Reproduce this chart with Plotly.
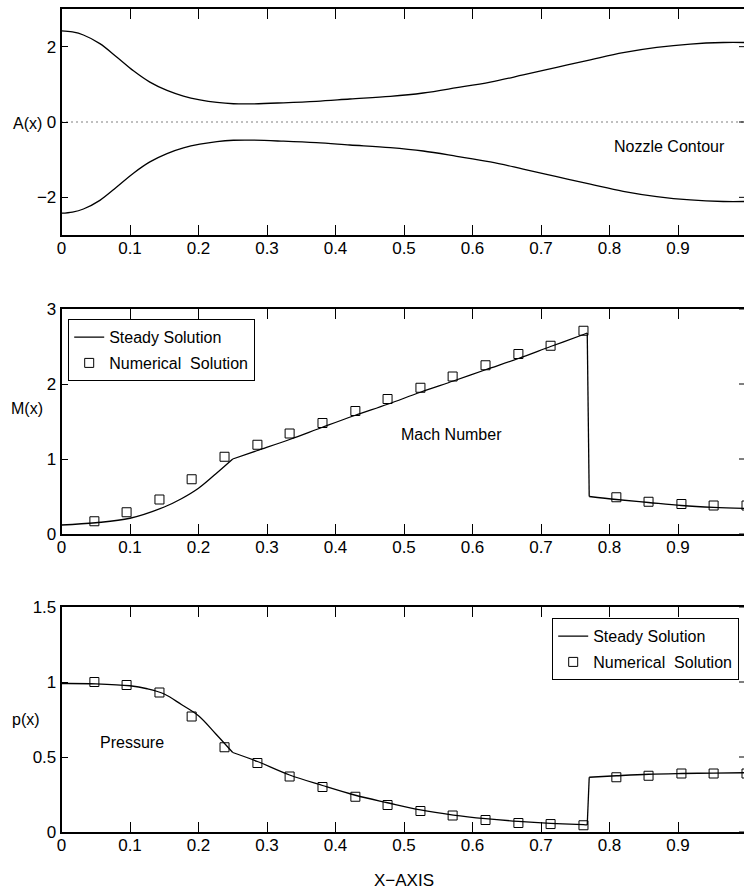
import plotly.graph_objects as go

# ---- nozzle contour (upper wall; lower wall is its mirror) ----
nozzle_x = [0, 0.016, 0.032, 0.056, 0.081, 0.105, 0.129, 0.154, 0.178, 0.202, 0.227,
            0.251, 0.275, 0.324, 0.372, 0.421, 0.48, 0.528, 0.577, 0.626, 0.674,
            0.723, 0.772, 0.82, 0.869, 0.918, 0.966, 1.0]
nozzle_a = [2.42, 2.39, 2.31, 2.08, 1.72, 1.36, 1.06, 0.84, 0.69, 0.59, 0.52,
            0.485, 0.48, 0.51, 0.55, 0.61, 0.68, 0.77, 0.91, 1.06, 1.25,
            1.45, 1.65, 1.84, 1.98, 2.07, 2.11, 2.11]
axis_x = [0, 1]
axis_zero = [0, 0]

# ---- steady Mach number, split at throat and shock ----
mach_sub_x = [0, 0.05, 0.1, 0.15, 0.175, 0.2, 0.225, 0.25]
mach_sub_y = [0.12, 0.15, 0.21, 0.36, 0.47, 0.61, 0.80, 1.00]
mach_sup_x = [0.25, 0.285, 0.333, 0.38, 0.428, 0.476, 0.524, 0.572, 0.619, 0.667, 0.714, 0.762, 0.7675]
mach_sup_y = [1.00, 1.11, 1.26, 1.42, 1.58, 1.73, 1.89, 2.04, 2.19, 2.34, 2.50, 2.66, 2.68]
mach_shock_x = [0.7675, 0.7704]
mach_shock_y = [2.68, 0.50]
mach_down_x = [0.7704, 0.81, 0.857, 0.905, 0.952, 1.0]
mach_down_y = [0.50, 0.46, 0.42, 0.38, 0.355, 0.34]

# ---- steady pressure, split at throat and shock ----
p_sub_x = [0, 0.05, 0.1, 0.125, 0.15, 0.175, 0.2, 0.225, 0.25]
p_sub_y = [0.99, 0.988, 0.975, 0.955, 0.92, 0.85, 0.775, 0.655, 0.53]
p_sup_x = [0.25, 0.286, 0.333, 0.381, 0.429, 0.476, 0.524, 0.572, 0.619, 0.667, 0.714, 0.762, 0.7675]
p_sup_y = [0.53, 0.47, 0.38, 0.31, 0.245, 0.195, 0.147, 0.113, 0.089, 0.071, 0.058, 0.049, 0.047]
p_shock_x = [0.7675, 0.7704]
p_shock_y = [0.047, 0.365]
p_down_x = [0.7704, 0.81, 0.857, 0.905, 0.952, 1.0]
p_down_y = [0.365, 0.375, 0.385, 0.39, 0.393, 0.395]

# ---- numerical solution samples ----
num_x = [0.048, 0.095, 0.143, 0.190, 0.238, 0.286, 0.333, 0.381, 0.429, 0.476, 0.524,
         0.571, 0.619, 0.667, 0.714, 0.762, 0.810, 0.857, 0.905, 0.952, 1.0]
num_mach = [0.17, 0.29, 0.46, 0.73, 1.03, 1.19, 1.34, 1.48, 1.64, 1.80, 1.95,
            2.10, 2.25, 2.40, 2.51, 2.71, 0.49, 0.43, 0.40, 0.38, 0.38]
num_p = [1.00, 0.98, 0.93, 0.77, 0.565, 0.46, 0.37, 0.30, 0.235, 0.18, 0.14,
         0.11, 0.08, 0.06, 0.053, 0.045, 0.365, 0.375, 0.39, 0.39, 0.39]

x_ticks = [0, 0.1, 0.2, 0.3, 0.4, 0.5, 0.6, 0.7, 0.8, 0.9, 1.0]
a_ticks = [-2, 0, 2]
m_ticks = [0, 1, 2, 3]
p_ticks = [0, 0.5, 1, 1.5]

FONT = "Liberation Sans, Arial, Helvetica, sans-serif"
W, H = 744, 892
LINE = dict(color="black", width=1.3)
MARK = dict(symbol="square-open", size=9, color="black", line=dict(width=1, color="black"))

fig = go.Figure()

# nozzle walls and centre line
fig.add_trace(go.Scatter(x=nozzle_x, y=nozzle_a, mode="lines", line=dict(LINE, shape="spline"),
                         xaxis="x", yaxis="y", showlegend=False))
fig.add_trace(go.Scatter(x=nozzle_x, y=[-a for a in nozzle_a], mode="lines",
                         line=dict(LINE, shape="spline"), xaxis="x", yaxis="y", showlegend=False))
fig.add_trace(go.Scatter(x=axis_x, y=axis_zero, mode="lines",
                         line=dict(color="black", width=1.2, dash="1px,4px"),
                         xaxis="x", yaxis="y", showlegend=False))

# Mach number panel
segs = [(mach_sub_x, mach_sub_y, "spline"), (mach_sup_x, mach_sup_y, "spline"),
        (mach_shock_x, mach_shock_y, "linear"), (mach_down_x, mach_down_y, "spline")]
for i, (sx, sy, shp) in enumerate(segs):
    fig.add_trace(go.Scatter(x=sx, y=sy, mode="lines", line=dict(LINE, shape=shp),
                             name="Steady Solution", legendgroup="m_steady",
                             showlegend=(i == 0), legend="legend",
                             xaxis="x2", yaxis="y2"))
fig.add_trace(go.Scatter(x=num_x, y=num_mach, mode="markers", name="Numerical  Solution",
                         marker=MARK, legendgroup="m_num", legend="legend",
                         xaxis="x2", yaxis="y2"))

# pressure panel
segs = [(p_sub_x, p_sub_y, "spline"), (p_sup_x, p_sup_y, "spline"),
        (p_shock_x, p_shock_y, "linear"), (p_down_x, p_down_y, "spline")]
for i, (sx, sy, shp) in enumerate(segs):
    fig.add_trace(go.Scatter(x=sx, y=sy, mode="lines", line=dict(LINE, shape=shp),
                             name="Steady Solution", legendgroup="p_steady",
                             showlegend=(i == 0), legend="legend2",
                             xaxis="x3", yaxis="y3"))
fig.add_trace(go.Scatter(x=num_x, y=num_p, mode="markers", name="Numerical  Solution",
                         marker=MARK, legendgroup="p_num", legend="legend2",
                         xaxis="x3", yaxis="y3"))

x0_px = 61.5
xr = (W - x0_px) / 685.0  # visible x extent of each panel
x_dom = [x0_px / W, 1.0]


def ydom(top_px, bot_px):
    return [(H - bot_px) / H, (H - top_px) / H]


tickfont = dict(family=FONT, size=17, color="black")
xcommon = dict(range=[0, xr], domain=x_dom, tickvals=x_ticks, ticks="inside", ticklen=10,
               tickwidth=1, tickcolor="black", showline=True, linecolor="black", linewidth=1.6,
               mirror="ticks", showgrid=False, zeroline=False, tickfont=tickfont,
               ticklabelstandoff=-3)
ycommon = dict(ticks="inside", ticklen=7, tickwidth=1, tickcolor="black", showline=True,
               linecolor="black", linewidth=1.6, mirror=False, showgrid=False,
               zeroline=False, tickfont=tickfont)

panels = [(9, 235, [-3, 3], a_ticks), (309, 534, [0, 3], m_ticks), (607, 832, [0, 1.5], p_ticks)]
shapes = []
for i, (top, bot, rng, tv) in enumerate(panels, start=1):
    sfx = "" if i == 1 else str(i)
    fig.layout["xaxis" + sfx] = dict(xcommon, anchor="y" + sfx)
    fig.layout["yaxis" + sfx] = dict(ycommon, anchor="x" + sfx, domain=ydom(top, bot),
                                     range=rng, tickvals=tv)
    # inward ticks along the right edge
    for v in tv:
        shapes.append(dict(type="line", xref="x%s domain" % sfx, yref="y" + sfx,
                           x0=1 - 5 / (W - x0_px), x1=1, y0=v, y1=v,
                           line=dict(color="black", width=1)))

txt = dict(family=FONT, size=16, color="black")
ylab = dict(family=FONT, size=16, color="black")
centre = dict(xanchor="center", yanchor="middle", showarrow=False)
annotations = [
    dict(centre, text="Nozzle Contour", x=0.888, y=-0.66, xref="x", yref="y", font=txt),
    dict(centre, text="Mach Number", x=0.569, y=1.32, xref="x2", yref="y2", font=txt),
    dict(centre, text="Pressure", x=0.103, y=0.60, xref="x3", yref="y3", font=txt),
    dict(centre, text="A(x)", x=27 / W, y=(H - 123) / H, xref="paper", yref="paper", font=ylab),
    dict(centre, text="M(x)", x=26.5 / W, y=(H - 408) / H, xref="paper", yref="paper", font=ylab),
    dict(centre, text="p(x)", x=26.3 / W, y=(H - 719) / H, xref="paper", yref="paper", font=ylab),
    dict(centre, text="X\u2212AXIS", x=404 / W, y=(H - 880) / H, xref="paper", yref="paper",
         font=dict(txt, size=17)),
]

legend_style = dict(font=txt, bgcolor="white", bordercolor="black", borderwidth=1.2,
                    itemwidth=30, traceorder="grouped", tracegroupgap=2)
fig.update_layout(
    width=W, height=H, margin=dict(l=0, r=0, t=0, b=0, autoexpand=False),
    paper_bgcolor="white", plot_bgcolor="white",
    font=dict(family=FONT, size=16, color="black"),
    shapes=shapes, annotations=annotations,
    legend=dict(legend_style, x=68 / W, y=(H - 319) / H, xanchor="left", yanchor="top"),
    legend2=dict(legend_style, x=739 / W, y=(H - 618) / H, xanchor="right", yanchor="top"),
)

fig.write_html("out.html")
